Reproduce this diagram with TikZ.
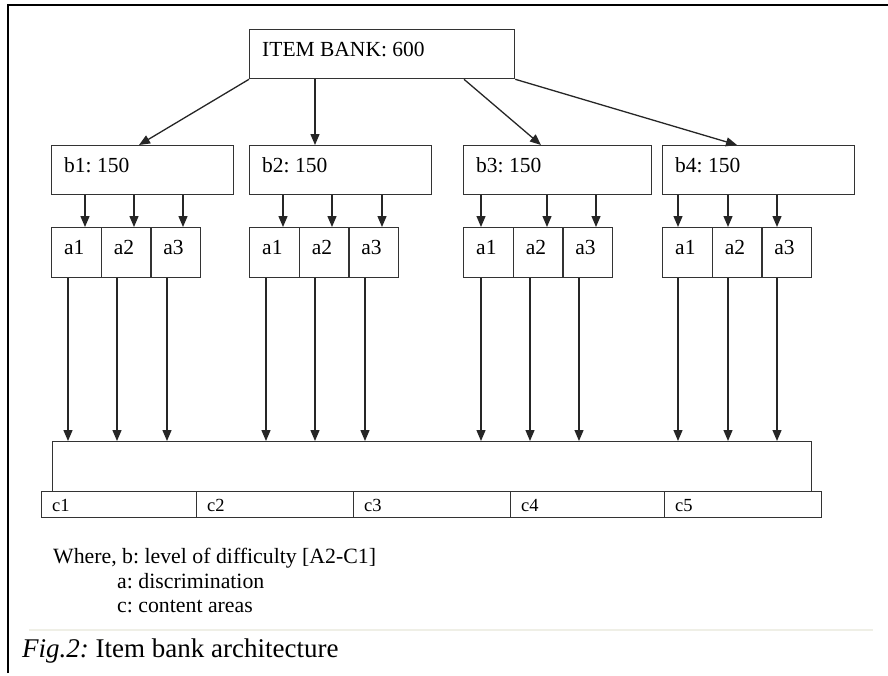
\documentclass[tikz,border=0pt]{standalone}
\usepackage{fontspec}
\setmainfont{Liberation Serif}
\usetikzlibrary{arrows.meta}
\frenchspacing
\begin{document}
\begin{tikzpicture}[x=1pt,y=-1pt,
    box/.style={draw=black!80, line width=1.3pt, anchor=north west, inner sep=0pt},
    txt/.style={anchor=base west, inner sep=0pt, font=\fontsize{21.5}{25}\selectfont},
    ctxt/.style={anchor=base west, inner sep=0pt, font=\fontsize{18.5}{22}\selectfont},
    arr/.style={draw=black!85, line width=1.3pt, -{Triangle[length=11pt,width=9pt]}}]
\useasboundingbox (0,0) rectangle (888,675);
% frame
\draw[line width=2.2pt] (8,673) -- (8,5) -- (888,5);
% top level
\node[box, minimum width=265pt, minimum height=49pt] (bank) at (249,29) {};
\node[txt] (bankt) at ([shift={(13,27)}]bank.north west) {ITEM BANK: 600};
% difficulty boxes
\foreach \g/\x/\w in {1/51/182, 2/249/182, 3/463/188, 4/662/192} {
  \node[box, minimum width=\w pt, minimum height=49pt] (b\g) at (\x,145) {};
  \node[txt] (lb\g) at ([shift={(13,27)}]b\g.north west) {b\g: 150};
  \foreach \i in {1,2,3} {
    \node[box, minimum width=49.6pt, minimum height=50pt] (a\g\i) at ({\x+(\i-1)*49.6},227) {};
    \node[txt] (la\g\i) at ([shift={(13,27)}]a\g\i.north west) {a\i};
  }
}
\draw[arr] (bank.south west) -- ([xshift=88pt]b1.north west);
\draw[arr] ([xshift=66pt]bank.south west) -- ([xshift=66pt]b2.north west);
\draw[arr] ([xshift=215pt]bank.south west) -- ([xshift=78pt]b3.north west);
\draw[arr] (bank.south east) -- ([xshift=75pt]b4.north west);
% content areas
\node[box, minimum width=759pt, minimum height=50pt] (big) at (52,441) {};
\foreach \i/\x/\w in {1/41/155, 2/196/157, 3/353/157, 4/510/154, 5/664/157} {
  \node[box, minimum width=\w pt, minimum height=26pt] (c\i) at (\x,491) {};
  \node[ctxt] (lc\i) at ([shift={(11,20)}]c\i.north west) {c\i};
}
% b -> a
\foreach \g/\p/\q/\r in {1/34/83/132, 2/34/83/133, 3/18/84/133, 4/16/66/115}
  \foreach \o in {\p,\q,\r}
    \draw[arr] ([xshift=\o pt]b\g.south west) -- ([xshift=\o pt]a\g1.north west);
% a -> content
\foreach \g/\p/\q/\r in {1/17/66/116, 2/17/66/116, 3/18/67/116, 4/16/66/115}
  \foreach \o in {\p,\q,\r}
    \draw[arr] ([xshift=\o pt]a\g1.south west) -- ([xshift=\o pt]a\g1.south west |- big.north);
% key
\node[txt, font=\fontsize{21.8}{25}\selectfont] (where) at (53,563) {Where, b: level of difficulty [A2-C1]};
\node[txt, font=\fontsize{21.8}{25}\selectfont] (keya) at (117,588) {a: discrimination};
\node[txt, font=\fontsize{21.8}{25}\selectfont] (keyc) at (117,612) {c: content areas};
\draw[line width=2pt, color={rgb,255:red,239;green,239;blue,230}] (29,630) -- (873,630);
\node[txt, font=\fontsize{27}{31}\selectfont] (caption) at (22,657) {\textit{Fig.2:} Item bank architecture};
\end{tikzpicture}
\end{document}
